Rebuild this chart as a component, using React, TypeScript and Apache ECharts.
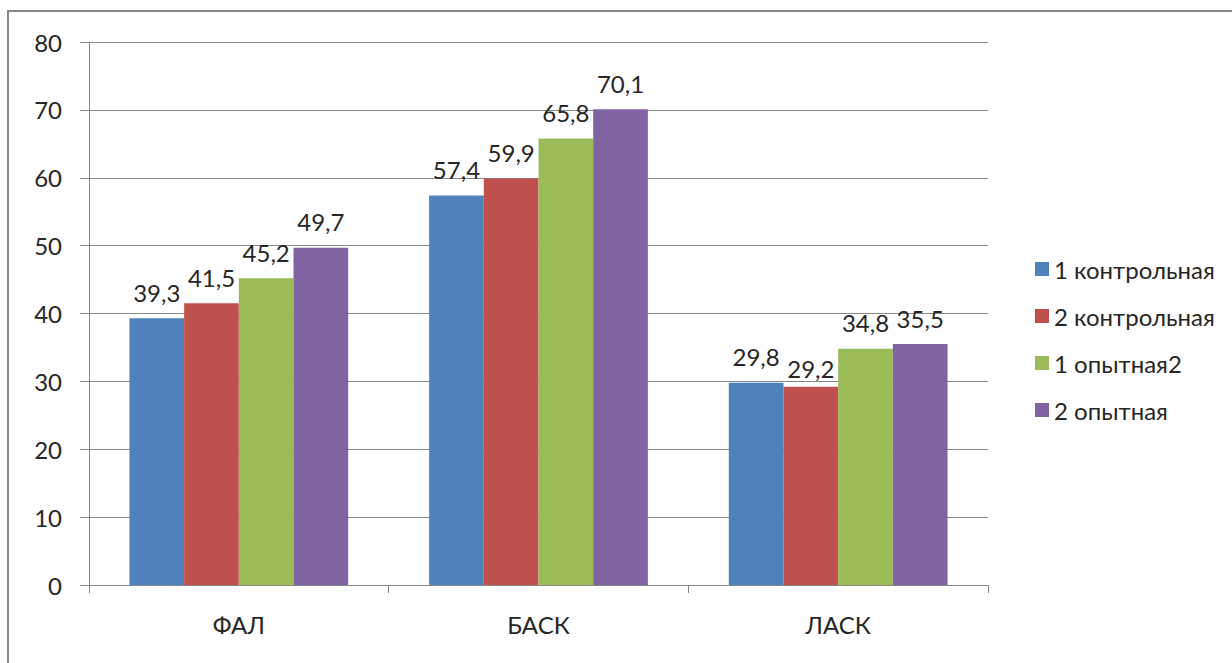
import React, { useEffect, useRef } from "react";
import * as echarts from "echarts";

const categories = ["ФАЛ", "БАСК", "ЛАСК"];
const seriesNames = ["1 контрольная", "2 контрольная", "1 опытная2", "2 опытная"];
const control1 = [39.3, 57.4, 29.8];
const control2 = [41.5, 59.9, 29.2];
const experimental1 = [45.2, 65.8, 34.8];
const experimental2 = [49.7, 70.1, 35.5];
const colors = ["#4F81BD", "#C0504D", "#9BBB59", "#8064A2"];

const FONT = "Lato";
const FS = 24;
const TEXT = "#262626";

export default function App() {
  const ref = useRef<HTMLDivElement>(null);
  useEffect(() => {
    if (!ref.current) return;
    const chart = echarts.init(ref.current, undefined, { renderer: "svg" });
    const data = [control1, control2, experimental1, experimental2];
    chart.setOption({
      animation: false,
      textStyle: { fontFamily: FONT },
      graphic: [
        {
          type: "rect",
          shape: { x: 8, y: 11, width: 1300, height: 800 },
          style: { fill: "none", stroke: "#888888", lineWidth: 2 },
          silent: true,
        },
      ],
      legend: {
        orient: "vertical",
        left: 1030,
        top: 252,
        itemWidth: 14,
        itemHeight: 14,
        itemGap: 23,
        icon: "rect",
        textStyle: { fontFamily: FONT, fontSize: FS, color: TEXT },
        data: seriesNames,
      },
      grid: { left: 89, right: 244, top: 42, bottom: 78, containLabel: false },
      xAxis: {
        type: "category",
        data: categories,
        axisLine: { lineStyle: { color: "#888888", width: 1 } },
        axisTick: { show: true, length: 8, lineStyle: { color: "#888888" } },
        axisLabel: { fontFamily: FONT, fontSize: FS, color: TEXT, margin: 27 },
      },
      yAxis: {
        type: "value",
        min: 0,
        max: 80,
        interval: 10,
        axisLine: { show: true, lineStyle: { color: "#888888", width: 1 } },
        axisTick: { show: true, length: 9, lineStyle: { color: "#888888" } },
        splitLine: { lineStyle: { color: "#888888", width: 1 } },
        axisLabel: { fontFamily: FONT, fontSize: FS, color: TEXT, margin: 27 },
      },
      series: seriesNames.map((name, i) => ({
        name,
        type: "bar",
        data: data[i].map((v, j) =>
          i === 1 && j === 2 ? { value: v, label: { distance: 6 } } : v
        ),
        barGap: "0%",
        barCategoryGap: "27%",
        itemStyle: { color: colors[i] },
        label: {
          show: true,
          position: "top",
          distance: 14,
          fontFamily: FONT,
          fontSize: FS,
          color: TEXT,
          formatter: (p: any) => String(p.value).replace(".", ","),
        },
      })),
    });
    return () => chart.dispose();
  }, []);
  return (
    <div
      ref={ref}
      style={{ position: "fixed", left: 0, top: 0, width: 1232, height: 663, background: "#fff" }}
    />
  );
}
